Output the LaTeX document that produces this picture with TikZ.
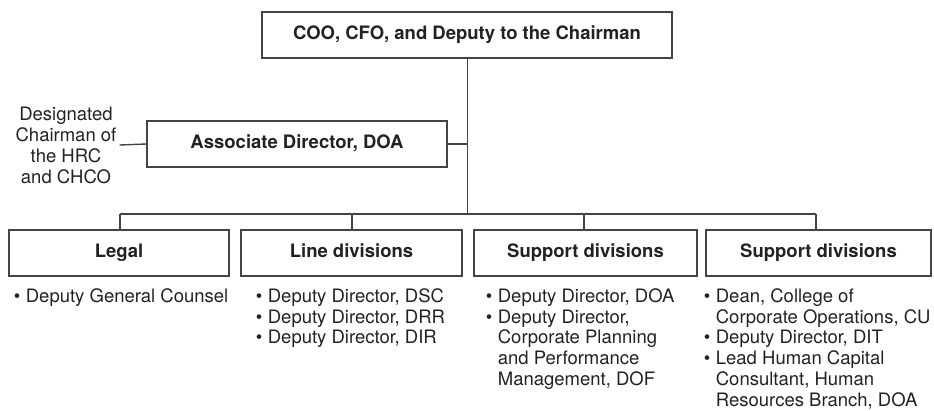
\documentclass[tikz,border=0pt]{standalone}
\usepackage{fontspec}
\setmainfont{TeX Gyre Heros}
\usepackage{array}
\definecolor{linec}{HTML}{444444}
\definecolor{textc}{HTML}{222222}
\newcommand{\bl}{\textbullet\hspace{5.5pt}}
\begin{document}
\begin{tikzpicture}[x=1pt,y=-1pt,
  every node/.style={text=textc, font=\fontsize{18.5}{21}\selectfont},
  box/.style={draw=linec, line width=1.4pt, minimum height=46pt, inner sep=0pt, text height=13.3pt, text depth=4pt, font=\fontsize{18.5}{21}\selectfont\bfseries},
  conn/.style={draw=linec, line width=1.4pt},
  blist/.style={anchor=north west, inner sep=0pt, align=left, font=\fontsize{18.5}{20.7}\selectfont}
]
\useasboundingbox (0,0) rectangle (934,410);
\node[box, minimum width=410pt] (top) at (467,35) {COO, CFO, and Deputy to the Chairman};
\node[box, minimum width=300pt] (assoc) at (297,144) {Associate Director, DOA};
\node[align=center, inner sep=3pt] (des) at (66,145) {Designated\\Chairman of\\the HRC\\and CHCO};
\node[box, minimum width=220pt] (b1) at (119,253) {Legal};
\node[box, minimum width=221pt] (b2) at (351.5,253) {Line divisions};
\node[box, minimum width=223pt] (b3) at (585.5,253) {Support divisions};
\node[box, minimum width=225pt] (b4) at (818.5,253) {Support divisions};
\coordinate (bus) at (467.7,214);
\coordinate (d1) at (120,214);
\coordinate (d2) at (352,214);
\coordinate (d3) at (584,214);
\coordinate (d4) at (816,214);
\draw[conn] (top.south -| bus) -- (bus);
\draw[conn] (assoc.east) -- (assoc.east -| bus);
\draw[conn] (des.east) -- (assoc.west);
\draw[conn] (d1) -- (d4);
\draw[conn] (d1) -- (d1 |- b1.north);
\draw[conn] (d2) -- (d2 |- b2.north);
\draw[conn] (d3) -- (d3 |- b3.north);
\draw[conn] (d4) -- (d4 |- b4.north);
\node[blist] (l1) at (13.7,288.5) {\bl Deputy General Counsel};
\node[blist] (l2) at (255.7,288.5) {\bl Deputy Director, DSC\\\bl Deputy Director, DRR\\\bl Deputy Director, DIR};
\node[blist] (l3) at (485.7,288.5) {\bl Deputy Director, DOA\\\bl Deputy Director,\\\phantom{\bl}Corporate Planning\\\phantom{\bl}and Performance\\\phantom{\bl}Management, DOF};
\node[blist] (l4) at (703.7,288.5) {\bl Dean, College of\\\phantom{\bl}Corporate Operations, CU\\\bl Deputy Director, DIT\\\bl Lead Human Capital\\\phantom{\bl}Consultant, Human\\\phantom{\bl}Resources Branch, DOA};
\end{tikzpicture}
\end{document}
